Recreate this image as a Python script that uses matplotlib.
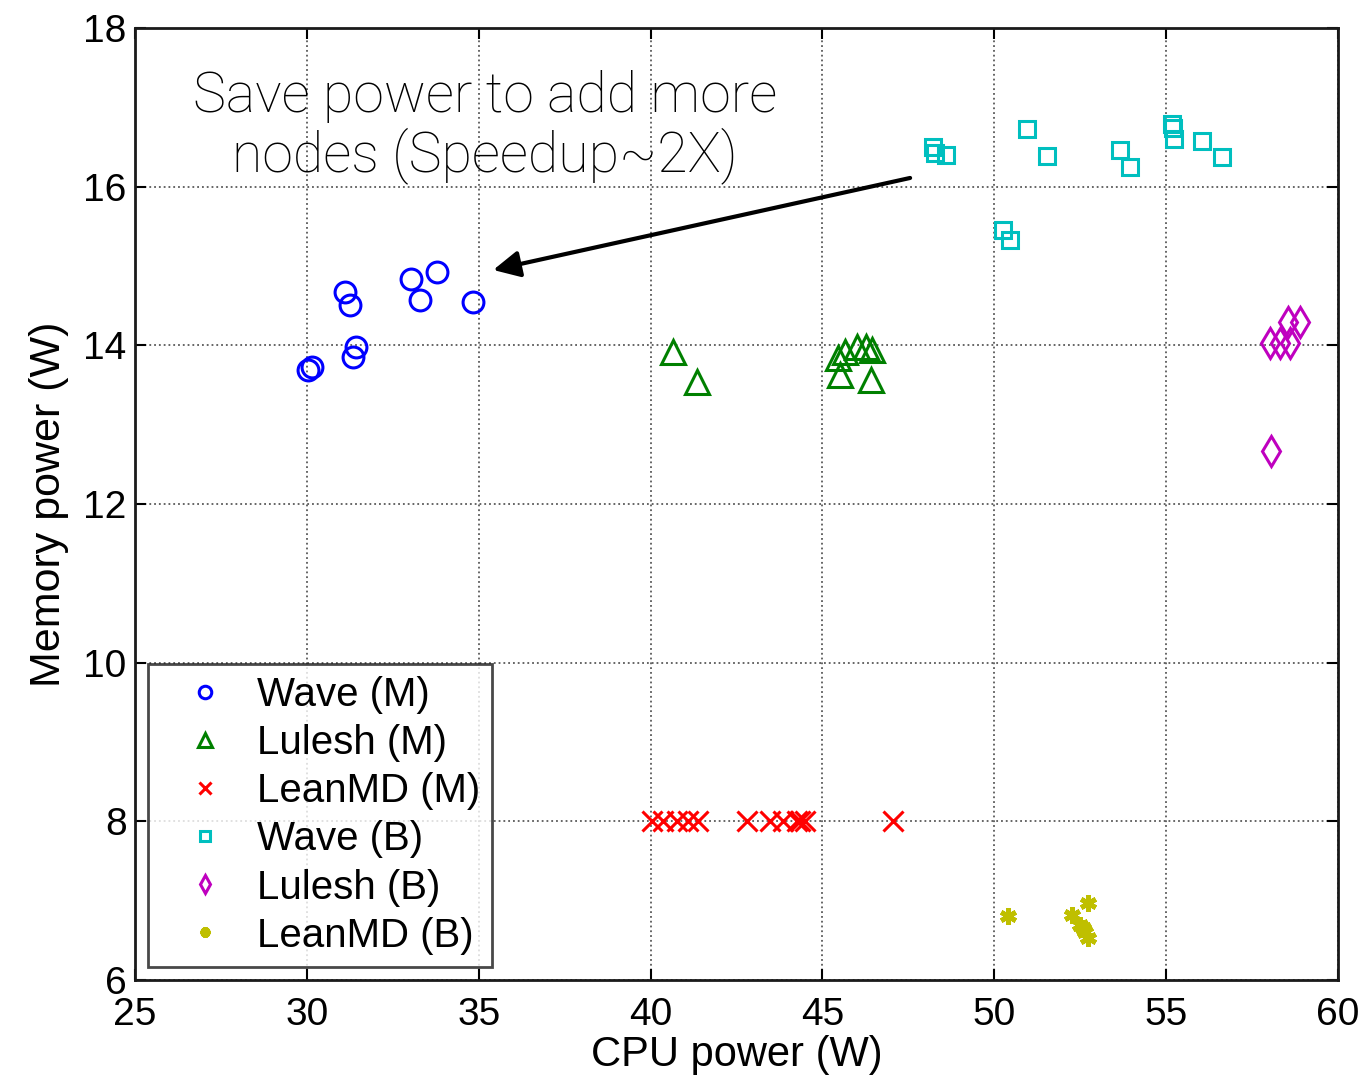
import matplotlib
matplotlib.use("Agg")
import matplotlib.pyplot as plt

plt.rcParams['font.family'] = ['Liberation Sans', 'DejaVu Sans']

# CPU power (W) / memory power (W) per configuration
wave_m_cpu = [30.03, 30.15, 31.11, 31.26, 31.43, 31.34, 33.03, 33.29, 33.79, 34.83]
wave_m_mem = [13.69, 13.73, 14.67, 14.51, 13.98, 13.85, 14.84, 14.57, 14.92, 14.55]

lulesh_m_cpu = [40.65, 41.35, 45.45, 45.51, 45.66, 46.01, 46.27, 46.44, 46.41]
lulesh_m_mem = [13.92, 13.54, 13.84, 13.63, 13.92, 13.98, 13.98, 13.94, 13.56]

leanmd_m_cpu = [40.04, 40.36, 40.77, 41.09, 41.38, 42.81, 43.48, 43.85, 44.26, 44.35, 44.49, 47.05]
leanmd_m_mem = [8.0, 8.0, 8.0, 8.0, 8.0, 8.0, 8.0, 8.0, 8.0, 8.0, 8.0, 8.0]

wave_b_cpu = [48.22, 48.28, 48.60, 50.95, 51.54, 53.66, 53.95, 55.17, 55.20, 55.23,
              56.04, 56.63, 50.25, 50.46]
wave_b_mem = [16.50, 16.42, 16.40, 16.73, 16.39, 16.46, 16.25, 16.79, 16.74, 16.60,
              16.57, 16.37, 15.45, 15.33]

lulesh_b_cpu = [58.02, 58.31, 58.60, 58.55, 58.90, 58.05]
lulesh_b_mem = [14.03, 14.03, 14.03, 14.29, 14.29, 12.67]

leanmd_b_cpu = [50.40, 52.26, 52.73, 52.50, 52.64, 52.73, 52.58]
leanmd_b_mem = [6.81, 6.82, 6.97, 6.69, 6.61, 6.53, 6.66]

x_ticks = [25, 30, 35, 40, 45, 50, 55, 60]
y_ticks = [6, 8, 10, 12, 14, 16, 18]

fig = plt.figure(figsize=(13.67, 10.82), dpi=100)
ax = fig.add_axes([0.0988, 0.0943, 0.88, 0.8798])

mw = 2.2
ax.plot(wave_m_cpu, wave_m_mem, 'o', ls='none', ms=15, mfc='none', mec=(0, 0, 1), mew=mw,
        label='Wave (M)')
ax.plot(lulesh_m_cpu, lulesh_m_mem, '^', ls='none', ms=17, mfc='none', mec=(0, 0.5, 0), mew=mw,
        label='Lulesh (M)')
ax.plot(leanmd_m_cpu, leanmd_m_mem, 'x', ls='none', ms=15, mec=(1, 0, 0), mew=mw,
        label='LeanMD (M)')
ax.plot(wave_b_cpu, wave_b_mem, 's', ls='none', ms=11, mfc='none', mec=(0, 0.75, 0.75), mew=mw,
        label='Wave (B)')
ax.plot(lulesh_b_cpu, lulesh_b_mem, 'd', ls='none', ms=15, mfc='none', mec=(0.75, 0, 0.75), mew=mw,
        label='Lulesh (B)')
ax.plot(leanmd_b_cpu, leanmd_b_mem, marker=(6, 2, 0), ls='none', ms=12,
        mec=(0.75, 0.75, 0), mew=3.5, label='LeanMD (B)')

ax.set_xlim(25, 60)
ax.set_ylim(6, 18)
ax.set_xticks(x_ticks)
ax.set_yticks(y_ticks)
ax.tick_params(direction='in', top=True, right=True, length=8, width=1.5,
               labelsize=28)
ax.tick_params(axis='x', pad=12)
ax.tick_params(axis='y', pad=6)
ax.grid(True, linestyle=':', color='0.35', linewidth=1.3)
for s in ax.spines.values():
    s.set_linewidth(2)
    s.set_color('0.1')

ax.set_xlabel('CPU power (W)', fontsize=30, labelpad=2)
ax.set_ylabel('Memory power (W)', fontsize=31, labelpad=10)

leg = ax.legend(loc='lower left', bbox_to_anchor=(0, 0), fontsize=29,
                frameon=True, fancybox=False, borderpad=0.3, labelspacing=0.25,
                handletextpad=0.2, handlelength=2.2, borderaxespad=0.33,
                markerscale=0.6)
leg.get_frame().set_edgecolor('0.1')
leg.get_frame().set_linewidth(2)

ax.annotate('', xy=(35.42, 14.95), xytext=(47.55, 16.11),
            arrowprops=dict(arrowstyle='-|>', color='black', lw=3,
                            mutation_scale=40, shrinkA=0, shrinkB=0))
ax.text(35.18, 16.75, 'Save power to add more\nnodes (Speedup~2X)', fontsize=40,
        family=['Roboto', 'DejaVu Sans'], fontweight='light', ha='center', va='center',
        linespacing=1.1)

fig.savefig('out.png', dpi=100)
